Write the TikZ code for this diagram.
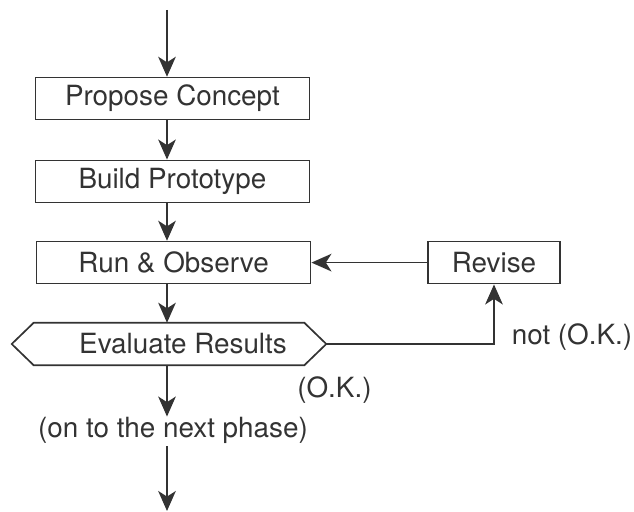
\documentclass[tikz,border=0pt]{standalone}
\usepackage{fontspec}
\setmainfont{TeX Gyre Heros}
\usepackage{tikz}
\usetikzlibrary{arrows.meta,positioning,calc}
\usepackage{xcolor}
\definecolor{figink}{HTML}{333333}

\begin{document}
\begin{tikzpicture}[
  box/.style={draw=figink, line width=1.2pt, minimum width=6.85cm, minimum height=1.05cm, inner sep=0, font=\fontsize{19.8}{22}\selectfont, text=figink},
  lbl/.style={font=\fontsize{19.8}{22}\selectfont, text=figink, inner sep=0},
  flow/.style={draw=figink, line width=1.2pt},
  >={Stealth[length=5mm, width=4.4mm, inset=1.4mm]}
]
\useasboundingbox (0,0) rectangle (15.85,12.775);
% main column
\coordinate (col) at (4.175, 0);
\coordinate (entry) at (4.175, 12.525);
\coordinate (exit) at (4.175, 0);
\node[box] (prop) at (4.31, 10.31) {Propose Concept};
\node[box] (build) at (4.31, 8.24) {Build Prototype};
\node[box] (run) at (4.34, 6.21) {Run \& Observe};
\node[box, minimum width=3.3cm] (rev) at (12.35, 6.21) {Revise};

% decision hexagon
\node[lbl, minimum width=7.85cm, minimum height=1.05cm] (eval) at (4.225, 4.175) {\hspace*{0.7cm}Evaluate Results};
\draw[flow] (eval.west) -- ($(eval.north west)+(0.55,0)$) -- ($(eval.north east)+(-0.55,0)$)
  -- (eval.east) -- ($(eval.south east)+(-0.55,0)$) -- ($(eval.south west)+(0.55,0)$) -- cycle;

% labels
\node[lbl] (nok) at (14.3, 4.35) {not (O.K.)};
\node[lbl] (ok) at (8.36, 3.025) {(O.K.)};
\node[lbl] (next) at (4.325, 2.025) {(on to the next phase)};

% connectors
\draw[flow, ->] (entry) -- (prop.north -| col);
\draw[flow, ->] (prop.south -| col) -- (build.north -| col);
\draw[flow, ->] (build.south -| col) -- (run.north -| col);
\draw[flow, ->] (run.south -| col) -- (eval.north -| col);
\draw[flow, ->] (rev.west) -- (run.east);
\draw[flow, ->] (eval.east) -| (rev.south);
\draw[flow, ->] (eval.south -| col) -- (next.north -| col);
\draw[flow, ->] ([yshift=-2pt]next.south -| col) -- (exit);
\end{tikzpicture}
\end{document}
